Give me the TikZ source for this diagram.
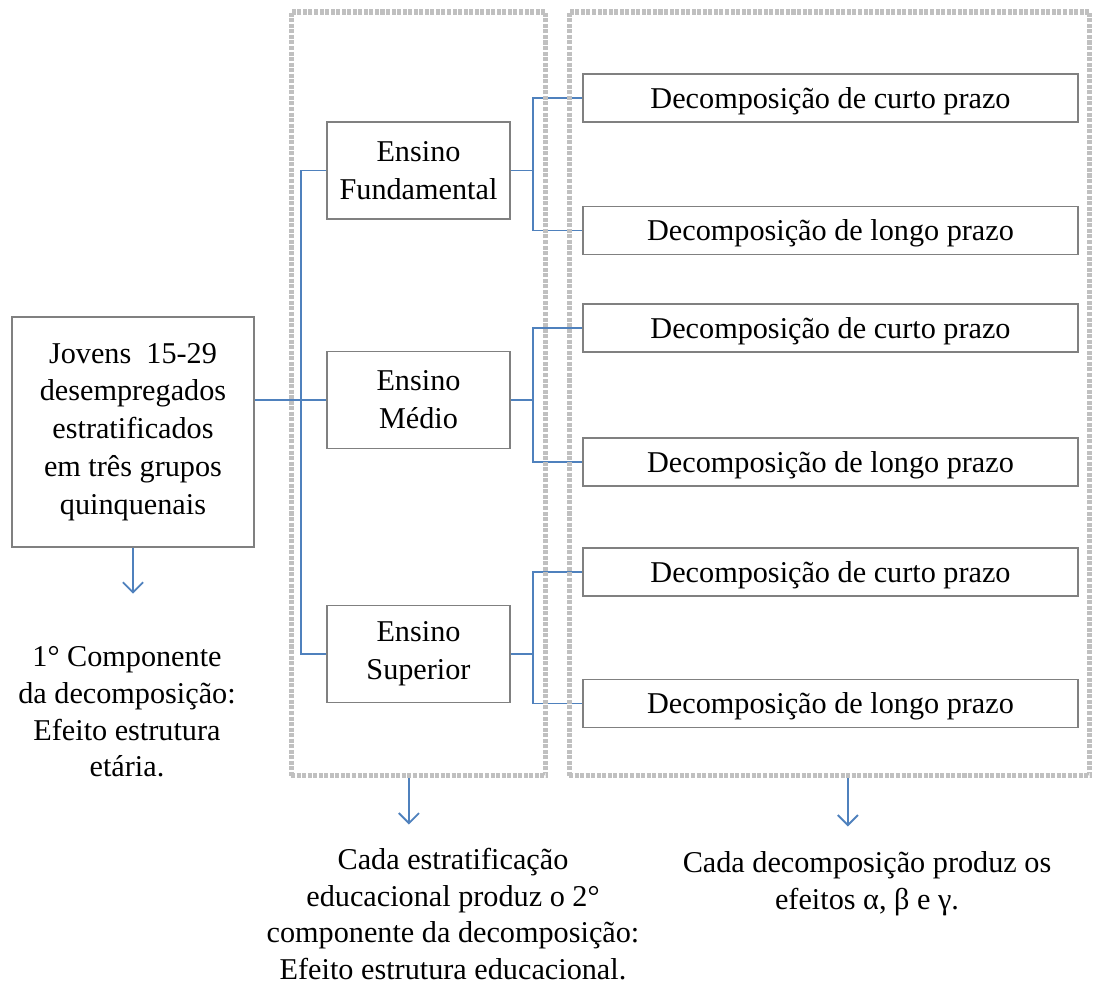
\documentclass[tikz,border=0pt]{standalone}
\usepackage{fontspec}
\setmainfont{Liberation Serif}
\usepackage{tikz}
\usetikzlibrary{arrows.meta,positioning}
\usepackage{xcolor}
\definecolor{dfblue}{RGB}{79,129,189}
\definecolor{dfgray}{RGB}{128,128,128}
\definecolor{dflightgray}{RGB}{192,192,192}
\tikzstyle{link} = [line width=0.75pt, color=dfblue]
\tikzstyle{arrow} = [line width=0.75pt, -{Straight Barb[length=4pt,width=8pt]}, color=dfblue]
\tikzstyle{box} = [rectangle, draw=dfgray, line width=0.6pt, align=center, inner sep=0pt, font=\fontsize{12pt}{15pt}\selectfont]
\tikzstyle{stage} = [box, minimum width=72.7pt, minimum height=38.5pt]
\tikzstyle{decomp} = [box, minimum width=196.5pt, minimum height=19pt, text height=1.9ex, text depth=0.1ex]
\tikzstyle{group} = [rectangle, draw=dflightgray, line width=2pt, dash pattern=on 1.6pt off 0.6pt, inner sep=0pt]
\tikzstyle{note} = [align=center, font=\fontsize{12pt}{14.6pt}\selectfont]

\begin{document}
\begin{tikzpicture}[x=0.397pt, y=-0.397pt]
\useasboundingbox (0,0) rectangle (1097,986);

% Population
\node (jovens) [box, minimum width=96.1pt, minimum height=91.3pt] at (133,432) {Jovens\ \ 15-29\\desempregados\\estratificados\\em três grupos\\quinquenais};

% Educational levels
\node (fund) [stage] at (418.5,170.5) {Ensino\\Fundamental};
\node (medio) [stage] at (418.5,400) {Ensino\\Médio};
\node (sup) [stage] at (418.5,654) {Ensino\\Superior};

% Decompositions
\node (fcurto) [decomp] at (830.5,98) {Decomposição de curto prazo};
\node (flongo) [decomp] at (830.5,230.5) {Decomposição de longo prazo};
\node (mcurto) [decomp] at (830.5,328) {Decomposição de curto prazo};
\node (mlongo) [decomp] at (830.5,462) {Decomposição de longo prazo};
\node (scurto) [decomp] at (830.5,572) {Decomposição de curto prazo};
\node (slongo) [decomp] at (830.5,703.5) {Decomposição de longo prazo};

% Tree links
\draw[link] (jovens.east |- medio.west) -- (medio.west);
\draw[link] (fund.west) -- ++(-25,0) |- (sup.west);

\draw[link] (fund.east) -- ++(22,0) coordinate (fjoin);
\draw[link] (fcurto.west) -| (fjoin) |- (flongo.west);
\draw[link] (medio.east) -- ++(22,0) coordinate (mjoin);
\draw[link] (mcurto.west) -| (mjoin) |- (mlongo.west);
\draw[link] (sup.east) -- ++(22,0) coordinate (sjoin);
\draw[link] (scurto.west) -| (sjoin) |- (slongo.west);

% Dotted groups
\node (levels) [group, minimum width=101.2pt, minimum height=303.3pt] at (418.5,394) {};
\node (decomps) [group, minimum width=206.8pt, minimum height=303.3pt] at (829.5,394) {};

% Notes
\node (note0) [note] at (127,712) {1° Componente\\da decomposição:\\Efeito estrutura\\etária.};
\node (note1) [note] at (453,914) {Cada estratificação\\educacional produz o 2°\\componente da decomposição:\\Efeito estrutura educacional.};
\node (note2) [note] at (867,884) {Cada decomposição produz os\\efeitos α, β e γ.};

\draw[arrow] (jovens.south) -- ++(0,46);
\draw[arrow] ([xshift=-3.8pt]levels.south) -- ++(0,46);
\draw[arrow] ([xshift=7.3pt]decomps.south) -- ++(0,48);
\end{tikzpicture}
\end{document}
